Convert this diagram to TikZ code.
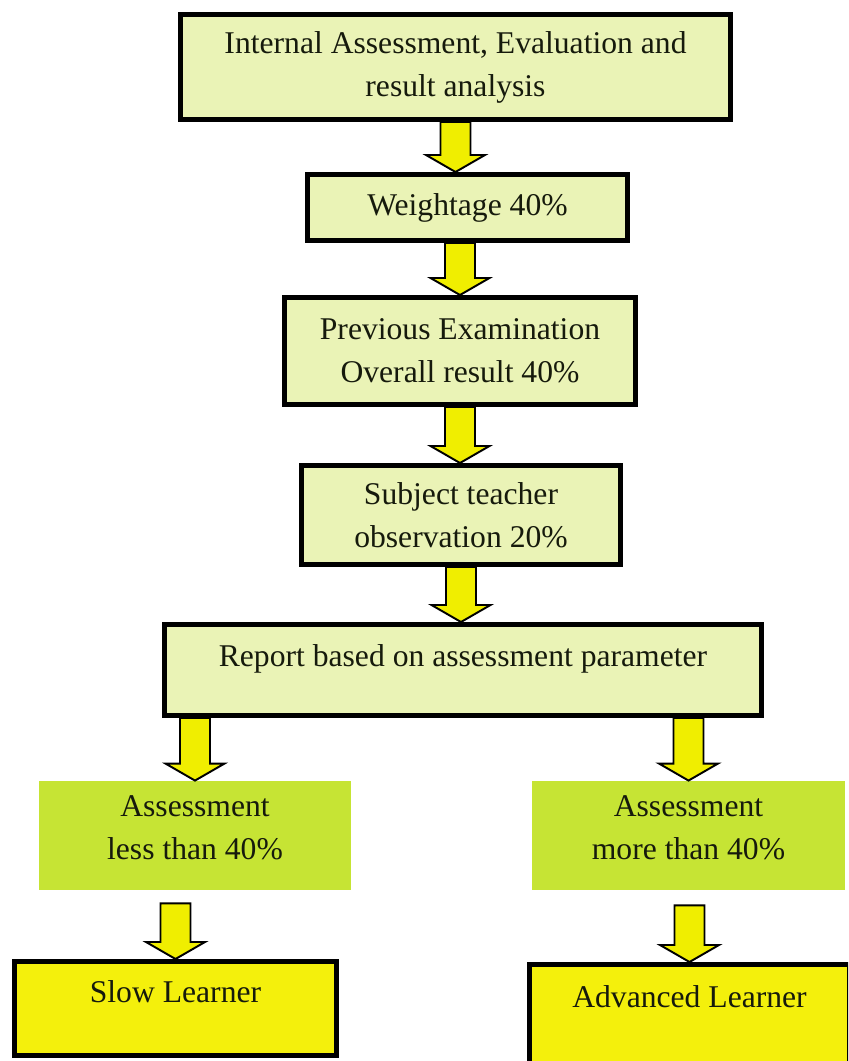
\documentclass[tikz,border=0pt]{standalone}
\usepackage{fontspec}
\setmainfont{Liberation Serif}
\usetikzlibrary{calc}
\definecolor{palebox}{RGB}{234,243,182}
\definecolor{limebox}{RGB}{198,228,52}
\definecolor{yellowbox}{RGB}{244,240,12}
\definecolor{arrowyellow}{RGB}{240,238,0}
\definecolor{inktext}{RGB}{22,26,12}
\begin{document}
\begin{tikzpicture}[line width=0.5pt,
    box/.style={draw=black, line width=2.85pt, fill=palebox, text=inktext, align=center,
        inner sep=0pt, font=\fontsize{18}{24.5}\selectfont},
    lime/.style={fill=limebox, text=inktext, align=center, inner sep=0pt, text depth=8.8pt,
        font=\fontsize{18}{24.5}\selectfont},
    learner/.style={box, fill=yellowbox},
    blockarr/.style={draw=black, line width=1.1pt, fill=arrowyellow, line join=miter,
        to path={let \p1=(\tikztostart), \p2=(\tikztotarget) in
            (\x1-0.3cm,\y1) -- (\x1-0.3cm,\y2+0.34cm) -- (\x1-0.59cm,\y2+0.34cm) -- (\x1,\y2)
            -- (\x1+0.59cm,\y2+0.34cm) -- (\x1+0.3cm,\y2+0.34cm) -- (\x1+0.3cm,\y1) -- cycle}}]
        \useasboundingbox (0,0) rectangle (16.96,-21.22);
        \clip (0,0) rectangle (16.96,-21.22);
        % middle column
        \draw (9.11,-1.34)node[box, minimum width=11cm, minimum height=2.1cm, name=B1]{Internal Assessment, Evaluation and\\result analysis};
        \draw (9.35,-4.15)node[box, minimum width=6.4cm, minimum height=1.32cm, name=B2]{Weightage 40\%};
        \draw (9.2,-7.02)node[box, minimum width=7.02cm, minimum height=2.14cm, name=B3]{Previous Examination\\Overall result 40\%};
        \draw (9.22,-10.3)node[box, minimum width=6.38cm, minimum height=1.98cm, name=B4]{Subject teacher\\observation 20\%};
        \draw (9.26,-13.4)node[box, minimum width=11.94cm, minimum height=1.82cm, text height=12.5pt, text depth=16pt, name=B5]{Report based on assessment parameter};
        % two branches
        \draw (3.9,-16.71)node[lime, minimum width=6.24cm, minimum height=2.18cm, name=L1]{Assessment\\less than 40\%};
        \draw (13.77,-16.71)node[lime, minimum width=6.26cm, minimum height=2.18cm, name=L2]{Assessment\\more than 40\%};
        \draw (3.51,-20.17)node[learner, minimum width=6.44cm, minimum height=1.88cm, text height=12.5pt, text depth=18.8pt, name=S1]{Slow Learner};
        \draw (13.79,-20.37)node[learner, minimum width=6.4cm, minimum height=2.16cm, text height=12.5pt, text depth=24.5pt, name=S2]{Advanced Learner};
        % arrows
        \draw[blockarr] (B1.south) to (B2.north);
        \draw[blockarr] (B2.south -| B3.north) to (B3.north);
        \draw[blockarr] (B3.south) to (B4.north);
        \draw[blockarr] (B4.south) to (B5.north);
        \draw[blockarr] (B5.south -| L1.north) to (L1.north);
        \draw[blockarr] (B5.south -| L2.north) to (L2.north);
        \draw[blockarr] ($(L1.south -| S1.north)+(0,-0.26)$) to (S1.north);
        \draw[blockarr] ($(L2.south -| S2.north)+(0,-0.3)$) to (S2.north);
\end{tikzpicture}
\end{document}
